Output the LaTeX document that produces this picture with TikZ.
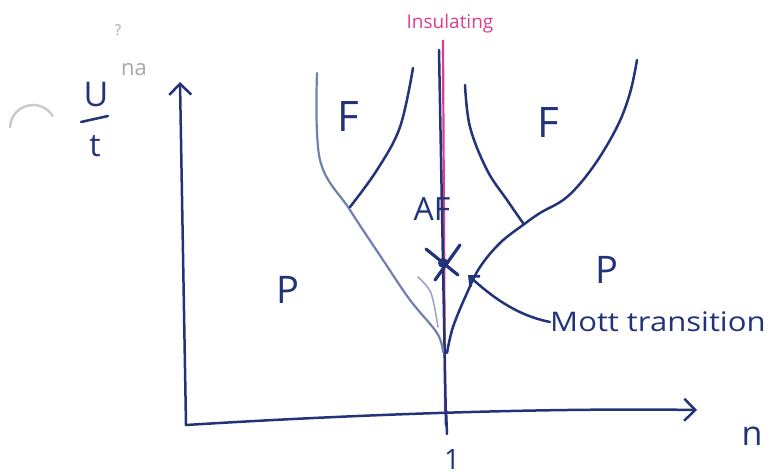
\documentclass[tikz,border=0pt]{standalone}
\usepackage{fontspec}
\setmainfont{Open Sans}
\usetikzlibrary{arrows.meta}
\definecolor{ink}{HTML}{22337A}
\definecolor{inklight}{HTML}{7080B0}
\definecolor{pinkink}{HTML}{E03C8C}
\definecolor{pencil}{HTML}{A8A8A8}
\begin{document}
\begin{tikzpicture}[x=1pt,y=-1pt,
  stroke/.style={draw=ink,line width=2.5pt,line cap=round,line join=round},
  lightstroke/.style={draw=inklight,line width=2.2pt,line cap=round},
  barb/.style={-{Straight Barb[length=11pt,width=22pt,line width=2.5pt]}},
  region/.style={text=ink,inner sep=0pt},
  ]
\useasboundingbox (0,0) rectangle (771,476);
% hole punch shadow
\draw[pencil!60,line width=2.5pt] (10,128) arc[start angle=180,end angle=330,radius=23];
% axes
\coordinate (O) at (186,425);
\coordinate (ytop) at (180,82);
\coordinate (xend) at (697,410);
\draw[stroke,barb] (O) -- (ytop);
\draw[stroke,barb] (O) .. controls (380,413) and (560,408) .. (xend);
\coordinate (t1) at (446,410);
\coordinate (t2) at (447,434);
\draw[stroke] (t1) -- (t2);
\node[region,font=\fontsize{28}{30}\selectfont] (one) at (452,460) {1};
\node[region,font=\fontsize{34}{36}\selectfont] (n) at (752,436) {n};
% U/t
\node[region,font=\fontsize{34}{36}\selectfont] (U) at (96,95) {U};
\node[region,font=\fontsize{32}{34}\selectfont] (t) at (95,146) {t};
\coordinate (f1) at (81,122);
\coordinate (f2) at (108,116);
\draw[stroke] (f1) -- (f2);
% pencil note
\node[text=pencil,font=\fontsize{15}{17}\selectfont,inner sep=0pt] (q) at (118,30) {?};
\node[text=pencil,font=\fontsize{22}{24}\selectfont,inner sep=0pt] (na) at (134,70) {na};
% insulating line
\coordinate (p0) at (443,40);
\coordinate (p1) at (445,412);
\draw[draw=pinkink,line width=2.2pt] (p0) -- (p1);
\node[text=pinkink,font=\fontsize{19}{21}\selectfont] (ins) at (450,24) {Insulating};
\coordinate (v0) at (439,50);
\coordinate (v1) at (446,425);
\draw[stroke] (v0) -- (v1);
% left curves
\draw[lightstroke] plot[smooth,tension=0.6] coordinates {(317,73) (320,160) (350,210) (383,260) (410,300) (437,333) (443,352)};
\draw[draw=inklight!70,line width=1.6pt,line cap=round] plot[smooth] coordinates {(418,277) (431,293) (438,327)};
\draw[stroke] plot[smooth,tension=0.6] coordinates {(413,68) (400,127) (377,170) (350,207)};
% right curves
\draw[stroke] plot[smooth,tension=0.6] coordinates {(465,85) (470,127) (487,170) (507,200) (523,223)};
\draw[stroke] plot[smooth,tension=0.6] coordinates {(637,60) (630,93) (617,127) (593,167) (567,197) (540,213) (523,225) (500,243) (480,267) (467,293) (453,327) (447,353)};
% regions
\node[region,font=\fontsize{42}{44}\selectfont] (F1) at (348,117) {F};
\node[region,font=\fontsize{42}{44}\selectfont] (F2) at (548,123) {F};
\node[region,font=\fontsize{32}{34}\selectfont] (AF) at (432,209) {AF};
\node[region,font=\fontsize{38}{40}\selectfont] (P1) at (288,290) {P};
\node[region,font=\fontsize{38}{40}\selectfont] (P2) at (607,270) {P};
% Mott point
\node[circle,fill=ink,inner sep=0pt,minimum size=10pt] (mott) at (443,263) {};
\draw[stroke,line width=3.2pt] (426,249) -- (458,275);
\draw[stroke,line width=3.2pt] (460,245) -- (435,280);
\node[region,anchor=west,xscale=1.15,font=\fontsize{27}{29}\selectfont] (mottlabel) at (550,322) {Mott transition};
\coordinate (mottarr) at (468,275);
\draw[stroke,-{Straight Barb[length=8pt,width=14pt,line width=2.5pt]}] (mottlabel.west) .. controls (515,315) and (490,295) .. (mottarr);
\end{tikzpicture}
\end{document}
